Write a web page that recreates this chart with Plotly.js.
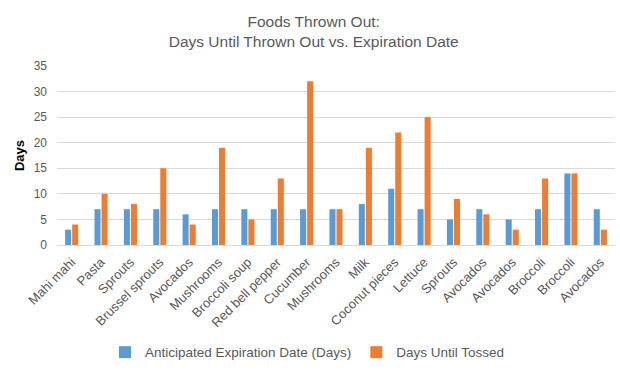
<!DOCTYPE html>
<html><head><meta charset="utf-8">
<script src="https://cdn.plot.ly/plotly-3.0.1.min.js"></script>
<style>html,body{margin:0;padding:0;background:#fff}#chart{width:620px;height:372px}</style>
</head><body><div id="chart"></div>
<script>
var foods = ["Mahi mahi","Pasta","Sprouts","Brussel sprouts","Avocados","Mushrooms","Broccoli soup","Red bell pepper","Cucumber","Mushrooms","Milk","Coconut pieces","Lettuce","Sprouts","Avocados","Avocados","Broccoli","Broccoli","Avocados"];
var anticipated = [3,7,7,7,6,7,7,7,7,7,8,11,7,5,7,5,7,14,7];
var tossed = [4,10,8,15,4,19,5,13,32,7,19,22,25,9,6,3,13,14,3];
var positions = foods.map(function(_, i){ return i; });
var yTicks = [0,5,10,15,20,25,30,35];

var gray = "#595959";
var font = "Liberation Sans, Arial, sans-serif";
var traces = [
  {type:"bar", name:"Anticipated Expiration Date (Days)", x:positions, y:anticipated, marker:{color:"#5B9BD5"}},
  {type:"bar", name:"Days Until Tossed", x:positions, y:tossed, marker:{color:"#ED7D31"}}
];
var layout = {
  width:620, height:372,
  margin:{l:57, r:5, t:66, b:126},
  paper_bgcolor:"#fff", plot_bgcolor:"#fff",
  barmode:"group", bargap:0.52, bargroupgap:0.14,
  title:{text:"Foods Thrown Out:<br>Days Until Thrown Out vs. Expiration Date", x:0.506, xanchor:"center", y:0.927, yanchor:"middle",
         font:{family:font, size:15.5, color:gray}},
  xaxis:{tickmode:"array", tickvals:positions, ticktext:foods, tickangle:-45, range:[-0.5, foods.length-0.5],
         tickfont:{family:font, size:13, color:gray}, showgrid:false, showline:false, ticks:"", zeroline:false,
         ticklabelstandoff:6, automargin:false},
  yaxis:{range:[0,35], tickmode:"array", tickvals:yTicks, showgrid:true, gridcolor:"#d9d9d9", gridwidth:1,
         zeroline:true, zerolinecolor:"#d9d9d9", showline:false, ticks:"", ticklabelstandoff:9, automargin:false,
         tickfont:{family:font, size:12, color:gray},
         title:{text:"<b>Days</b>", font:{family:font, size:13, color:"#000"}, standoff:6}},
  legend:{orientation:"h", x:0.086, xanchor:"left", y:-0.505, yanchor:"top",
          font:{family:font, size:13.5, color:gray}, traceorder:"normal"},
  showlegend:true
};
Plotly.newPlot("chart", traces, layout, {displayModeBar:false, staticPlot:true});
</script></body></html>
